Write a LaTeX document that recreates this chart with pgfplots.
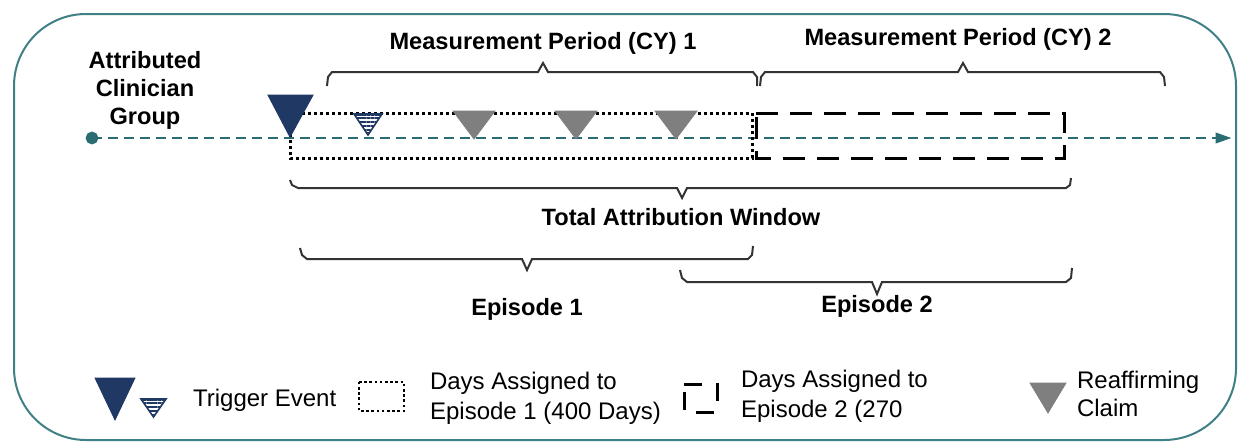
\documentclass[border=0pt]{standalone}
\usepackage{fontspec}
\setmainfont{Liberation Sans}
\usepackage{pgfplots}
\pgfplotsset{compat=1.18}
\usetikzlibrary{patterns.meta,arrows.meta}
\definecolor{navy}{HTML}{1F3864}
\definecolor{claim}{HTML}{7F7F7F}
\definecolor{tealline}{HTML}{2A6E74}
\definecolor{frame}{HTML}{3F7F86}
\begin{document}
\begin{tikzpicture}
\begin{axis}[
  scale only axis, width=620.5pt, height=222.5pt,
  xmin=0, xmax=1241, ymin=0, ymax=445, y dir=reverse,
  hide axis, clip=false,
]
\path (axis cs:0,0) rectangle (axis cs:1241,445);
% frame
\draw[frame, line width=1pt, rounded corners=36pt] (axis cs:14,14) rectangle (axis cs:1236,440);

% timeline
\addplot[tealline, line width=1.2pt, dash pattern=on 5pt off 3pt] coordinates {(92,138) (1222,138)};
\addplot[tealline, fill=tealline] coordinates {(1216,133) (1230,138) (1216,143)} -- cycle;
\addplot[tealline, fill=tealline] coordinates {(86,138) (87.8,133.8) (92,132) (96.2,133.8) (98,138) (96.2,142.2) (92,144) (87.8,142.2)} -- cycle;

% episode rectangles
\addplot[black, line width=1.5pt, dash pattern=on 1.5pt off 1.5pt] coordinates {(290,113) (752,113) (752,158) (290,158)} -- cycle;
\addplot[black, line width=1.5pt, dash pattern=on 11pt off 6pt] coordinates {(756,113) (1064,113) (1064,158) (756,158)} -- cycle;

% trigger events
\addplot[navy, fill=navy, line width=0.5pt] coordinates {(268,95) (313,95) (290,137)} -- cycle;
\addplot[navy, line width=0.8pt, pattern={Lines[angle=0,distance=1.9pt,line width=1.1pt]}, pattern color=navy] coordinates {(354,114) (382,114) (368,135)} -- cycle;
% reaffirming claims
\addplot[claim, fill=claim] coordinates {(453,111) (495,111) (474,139)} -- cycle;
\addplot[claim, fill=claim] coordinates {(555,111) (597,111) (576,139)} -- cycle;
\addplot[claim, fill=claim] coordinates {(655,111) (697,111) (676,139)} -- cycle;

% braces (top)
\addplot[black!80, line width=1pt] coordinates {(327,86) (328,77) (332,72) (538,72) (543,63) (548,72) (753,72) (757,77) (757,86)};
\addplot[black!80, line width=1pt] coordinates {(760,86) (761,77) (765,72) (958,72) (963,63) (968,72) (1160,72) (1164,77) (1165,86)};
% total attribution
\addplot[black!80, line width=1pt] coordinates {(290,180) (292,185) (298,188) (677,188) (682,198) (687,188) (1066,188) (1070,185) (1071,178)};
% episodes
\addplot[black!80, line width=1pt] coordinates {(300,248) (302,255) (307,259) (522,259) (527,270) (532,259) (748,259) (752,255) (753,246)};
\addplot[black!80, line width=1pt] coordinates {(680,270) (682,278) (687,282) (872,282) (877,294) (882,282) (1066,282) (1071,278) (1072,268)};

% labels
\node[font=\fontsize{11.8}{14}\selectfont\bfseries] at (axis cs:543,43) {Measurement Period (CY) 1};
\node[font=\fontsize{11.8}{14}\selectfont\bfseries] at (axis cs:958,39) {Measurement Period (CY) 2};
\node[font=\fontsize{11.8}{14}\selectfont\bfseries, align=center] at (axis cs:145,90) {Attributed\\Clinician\\Group};
\node[font=\fontsize{11.8}{14}\selectfont\bfseries] at (axis cs:681,217) {Total Attribution Window};
\node[font=\fontsize{11.8}{14}\selectfont\bfseries] at (axis cs:527,309) {Episode 1};
\node[font=\fontsize{11.8}{14}\selectfont\bfseries] at (axis cs:877,306) {Episode 2};

% legend
\addplot[navy, fill=navy] coordinates {(95,378) (135,378) (115,420)} -- cycle;
\addplot[navy, line width=0.8pt, pattern={Lines[angle=0,distance=1.9pt,line width=1.1pt]}, pattern color=navy] coordinates {(141,399) (166,399) (153.5,417)} -- cycle;
\node[font=\fontsize{12}{15}\selectfont, anchor=west] at (axis cs:186,400) {Trigger Event};
\addplot[black, line width=1.3pt, dash pattern=on 1.3pt off 1.3pt] coordinates {(359,382) (404,382) (404,411) (359,411)} -- cycle;
\node[font=\fontsize{12}{15}\selectfont, anchor=west, align=left] at (axis cs:423,398) {Days Assigned to\\Episode 1 (400 Days)};
\addplot[black, line width=1.5pt, dash pattern=on 9pt off 7pt] coordinates {(684,384) (717,384) (717,412) (684,412)} -- cycle;
\node[font=\fontsize{12}{15}\selectfont, anchor=west, align=left] at (axis cs:734,396) {Days Assigned to\\Episode 2 (270};
\addplot[claim, fill=claim] coordinates {(1030,383) (1066,383) (1048,413)} -- cycle;
\node[font=\fontsize{12}{14}\selectfont, anchor=west, align=left] at (axis cs:1070,394) {Reaffirming\\Claim};
\end{axis}
\end{tikzpicture}
\end{document}
